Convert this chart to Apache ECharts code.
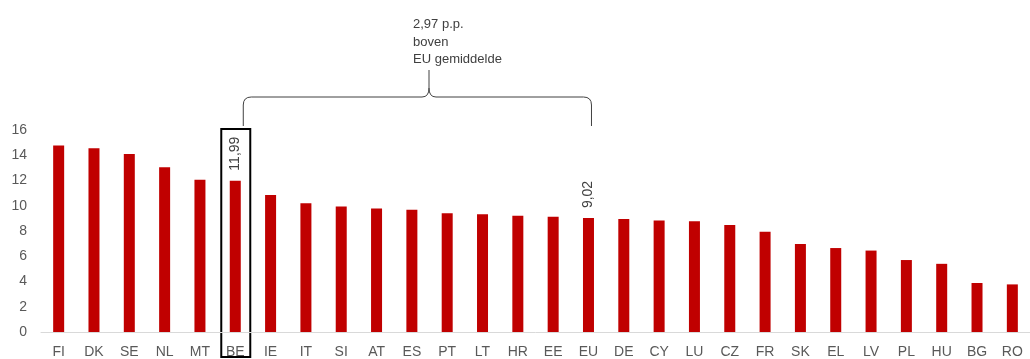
<!DOCTYPE html>
<html><head><meta charset="utf-8">
<script src="https://cdn.jsdelivr.net/npm/echarts@6/dist/echarts.min.js"></script>
<style>html,body{margin:0;padding:0;background:#fff}#c{width:1030px;height:359px}</style>
</head><body><div id="c"></div>
<script>
var categories = ['FI','DK','SE','NL','MT','BE','IE','IT','SI','AT','ES','PT','LT','HR','EE','EU','DE','CY','LU','CZ','FR','SK','EL','LV','PL','HU','BG','RO'];
var values = [14.78,14.55,14.1,13.05,12.05,11.99,10.85,10.2,9.95,9.78,9.68,9.4,9.33,9.2,9.12,9.02,8.96,8.84,8.78,8.47,7.95,6.97,6.65,6.45,5.7,5.4,3.88,3.77];
var labelled = ['BE','EU'];
var noteLines = ['2,97 p.p.','boven','EU gemiddelde'];
var yTicks = {min:0, max:16, interval:2};

var chart = echarts.init(document.getElementById('c'));
var font = 'Liberation Sans, Arial, sans-serif';
chart.setOption({
  animation:false,
  grid:{left:41, width:992, top:130, bottom:27},
  xAxis:{type:'category', data:categories,
    axisLine:{lineStyle:{color:'#d9d9d9', width:1}},
    axisTick:{show:false},
    axisLabel:{color:'#595959', fontSize:14, fontFamily:font, margin:13, interval:0}},
  yAxis:{type:'value', min:yTicks.min, max:yTicks.max, interval:yTicks.interval,
    splitLine:{show:false}, axisLine:{show:false}, axisTick:{show:false},
    axisLabel:{color:'#595959', fontSize:14, fontFamily:font, margin:14}},
  series:[{type:'bar', barWidth:11, itemStyle:{color:'#c00000'},
    data:values.map(function(v,i){
      var d={value:v};
      if(labelled.indexOf(categories[i])>=0){
        d.label={show:true, position:'top', rotate:90, align:'left', verticalAlign:'middle', distance:10,
          color:'#404040', fontSize:14, fontFamily:font,
          formatter:function(p){return p.value.toFixed(2).replace('.',',');}};
      }
      return d;
    })}]
});

var be = chart.convertToPixel({xAxisIndex:0},'BE');
var eu = chart.convertToPixel({xAxisIndex:0},'EU');
var top16 = chart.convertToPixel({yAxisIndex:0},16);
var xl = be+8, xr = eu+3, yLine = 97, yEnd = 126, xm = 429, yPeak = 70;
var ls = {stroke:'#404040', lineWidth:1, fill:'none'};
function ln(x1,y1,x2,y2){return {type:'line', shape:{x1:x1,y1:y1,x2:x2,y2:y2}, style:ls};}
function q(x1,y1,cx,cy,x2,y2){return {type:'bezierCurve', shape:{x1:x1,y1:y1,cpx1:cx,cpy1:cy,x2:x2,y2:y2}, style:ls};}
chart.setOption({graphic:[
  {type:'rect', shape:{x:be-14, y:top16-1, width:29, height:228}, style:{fill:'none', stroke:'#000', lineWidth:2}},
  ln(xl,yEnd,xl,yLine+8), q(xl,yLine+8,xl,yLine,xl+8,yLine), ln(xl+8,yLine,xm-7,yLine),
  q(xm-7,yLine,xm,yLine,xm,yLine-9), ln(xm,yLine-9,xm,yPeak),
  q(xm,yLine-9,xm,yLine,xm+7,yLine), ln(xm+7,yLine,xr-8,yLine),
  q(xr-8,yLine,xr,yLine,xr,yLine+8), ln(xr,yLine+8,xr,yEnd),
  {type:'text', x:413, y:16, style:{text:noteLines.join('\n'), fill:'#404040', fontSize:13, fontFamily:font, lineHeight:17.5}}
]});
</script></body></html>
